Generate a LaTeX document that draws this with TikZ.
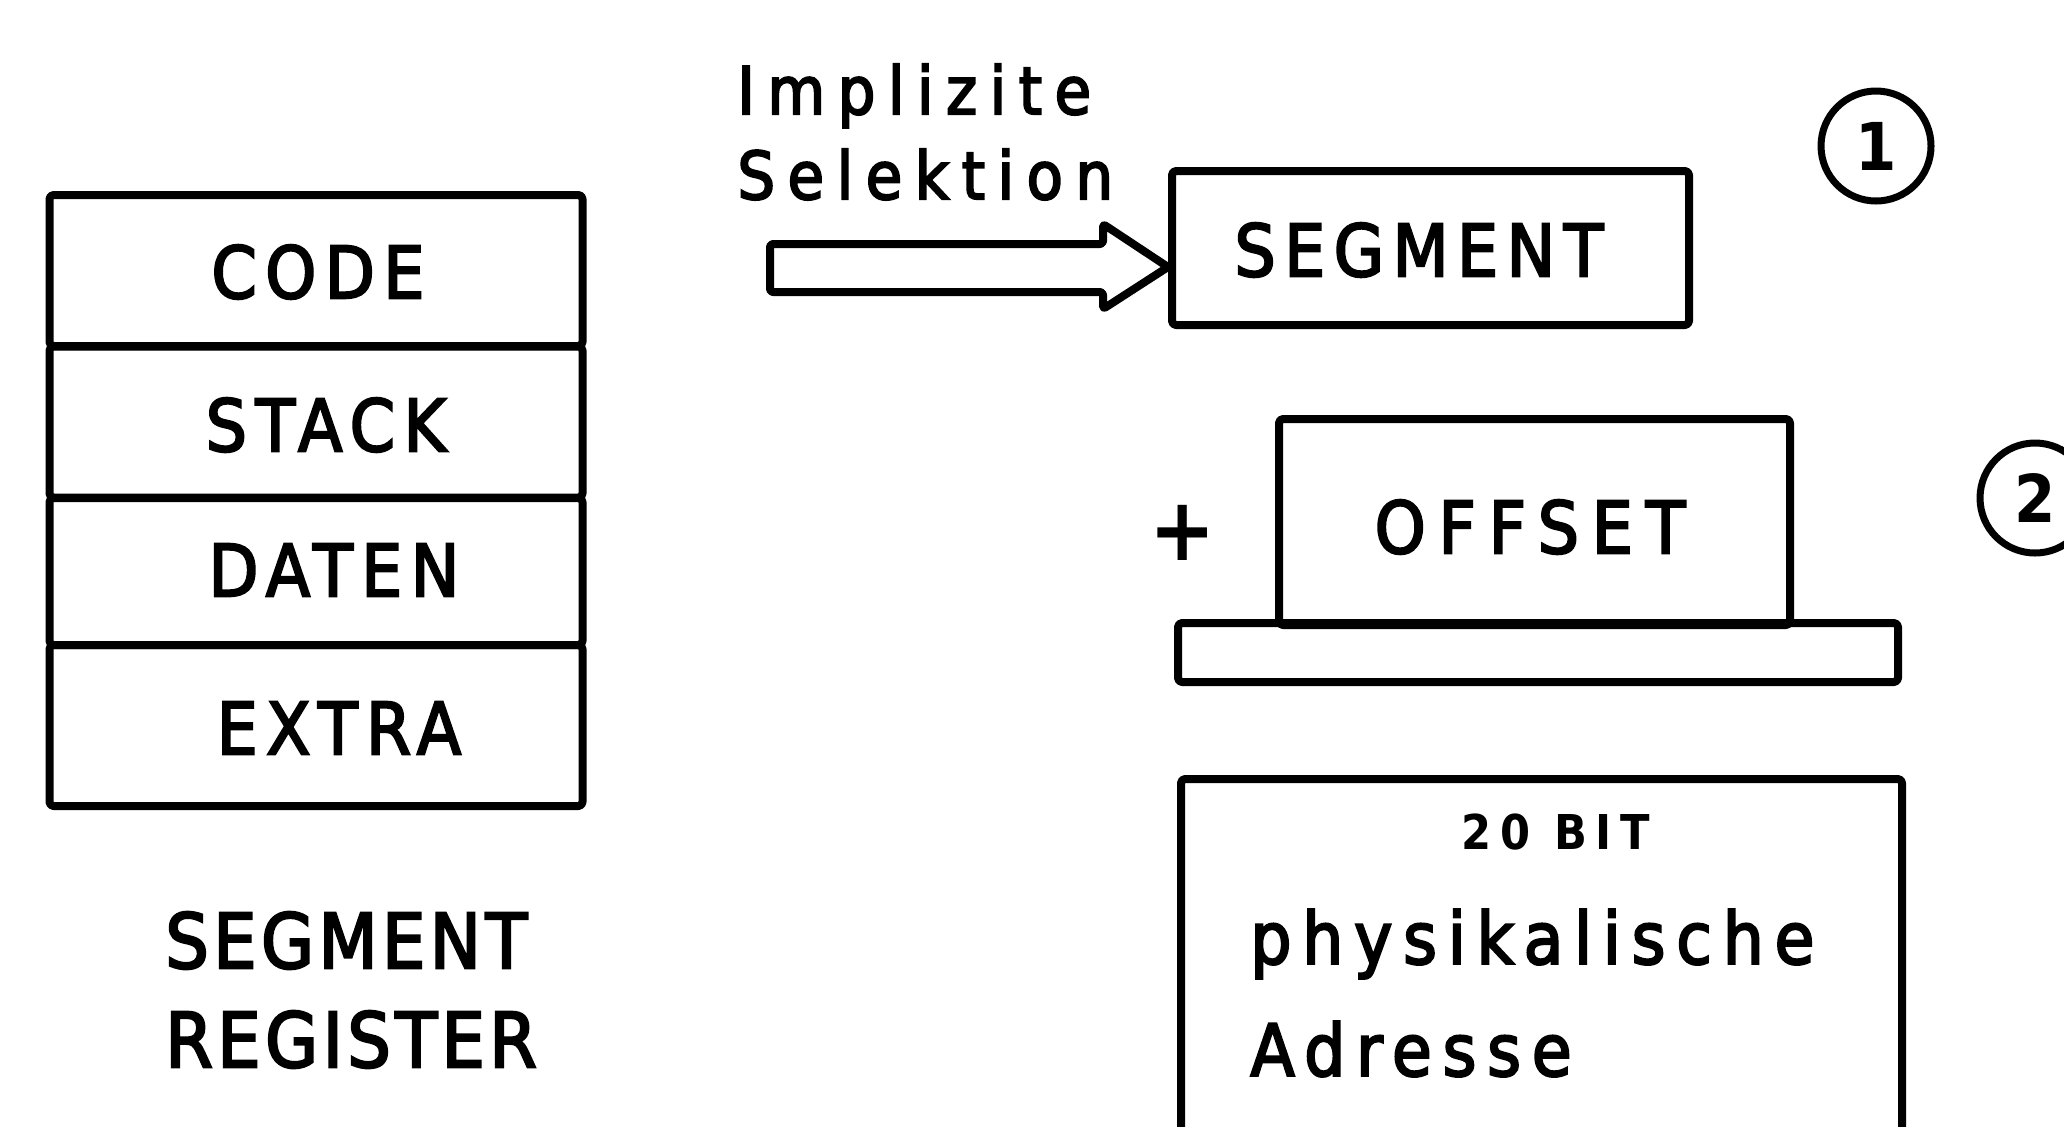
\documentclass[tikz,border=0pt]{standalone}
\usepackage{fontspec}
\newfontfamily\lab{DejaVu Sans Condensed}[LetterSpace=12,FakeBold=3]
\newfontfamily\labwide{DejaVu Sans Condensed}[LetterSpace=18,FakeBold=3]
\newfontfamily\labcap{DejaVu Sans Condensed}[LetterSpace=6,FakeBold=3]
\newfontfamily\labtxt{DejaVu Sans Condensed}[LetterSpace=15,FakeBold=3]
\newfontfamily\labsel{DejaVu Sans Condensed}[LetterSpace=19,FakeBold=3]
\newfontfamily\labbit{DejaVu Sans Condensed Bold}[LetterSpace=18]
\newfontfamily\labnum{DejaVu Sans Condensed Bold}
\usetikzlibrary{shapes.geometric}
\begin{document}
\begin{tikzpicture}[x=0.5pt,y=-0.5pt,
  frame/.style={draw=black,line width=4pt,line join=round,rounded corners=2pt},
  regrow/.style={frame,minimum width=266.5pt,minimum height=75.5pt,inner sep=0pt},
  boxtext/.style={font=\lab\fontsize{36}{40}\selectfont,inner sep=0pt},
  caption/.style={font=\labcap\fontsize{38}{49.5}\selectfont,align=left,inner sep=0pt},
  numcirc/.style={circle,draw=black,line width=3.5pt,minimum size=55pt,
    inner sep=0pt,font=\labnum\fontsize{33}{36}\selectfont}]
  \path[use as bounding box,fill=white] (0,0) rectangle (2064,1126);

  % segment register stack
  \node[regrow] (code)  at (316,270.5) {};
  \node[regrow] (stack) at (316,422)   {};
  \node[regrow,minimum height=73.5pt] (daten) at (316,571.5) {};
  \node[regrow,minimum height=80.5pt] (extra) at (316,725.5) {};
  \node[boxtext] (codet)  at (318,272) {CODE};
  \node[boxtext] (stackt) at (326,425) {STACK};
  \node[boxtext] (datent) at (334,570) {DATEN};
  \node[boxtext] (extrat) at (339,728) {EXTRA};
  \node[caption,anchor=west] (reglabel) at (165,990) {SEGMENT\\REGISTER};

  % implicit selection of the segment register
  \node[font=\labsel\fontsize{33}{42.5}\selectfont,align=left,inner sep=0pt,anchor=west]
    (impl) at (737,132) {Implizite\\Selektion};
  \node[frame,minimum width=258.5pt,minimum height=77pt,inner sep=0pt] (seg) at (1430.5,248) {};
  \node[boxtext] (segtext) at (1419,250) {SEGMENT};
  \coordinate (tip) at (seg.west |- 0,267);
  \coordinate (tail) at (770,268);
  \draw[line width=4pt,line join=round,rounded corners=1.5pt]
    (tail |- 0,244) -- (1103,244) -- (1103,224) -- (tip) -- (1103,309) -- (1103,292)
    -- (tail |- 0,292) -- cycle;
  \node[numcirc] (n1) at (1876,146) {1};

  % offset added on top of the shifted segment
  \node[font=\labnum\fontsize{44}{44}\selectfont,inner sep=0pt] (plus) at (1183,533) {+};
  \node[frame,minimum width=255.5pt,minimum height=103pt,inner sep=0pt] (off) at (1534.5,522) {};
  \node[font=\labwide\fontsize{36}{40}\selectfont,inner sep=0pt] (offtext) at (1530,527) {OFFSET};
  \node[frame,minimum width=360pt,minimum height=29.5pt,inner sep=0pt] (bar) at (1538,652.5) {};
  \node[numcirc] (n2) at (2035,498) {2};

  % resulting physical address
  \coordinate (pa) at (1181,779);
  \coordinate (pb) at (1902,779);
  \draw[line width=4pt,line join=round,rounded corners=2pt]
    (pa |- 0,1140) -- (pa) -- (pb) -- (pb |- 0,1140);
  \node[font=\labbit\fontsize{24}{26}\selectfont,inner sep=0pt] (bits) at (1556,832) {20 BIT};
  \node[font=\labtxt\fontsize{36}{56}\selectfont,align=left,inner sep=0pt,anchor=west]
    (phys) at (1250,993) {physikalische\\Adresse};
\end{tikzpicture}
\end{document}
